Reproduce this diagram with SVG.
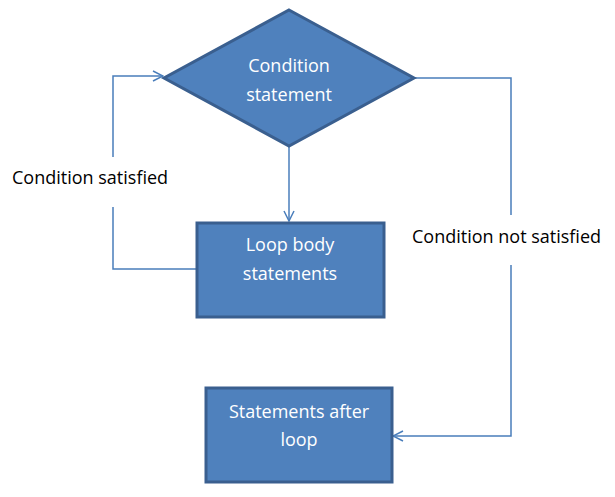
<svg xmlns="http://www.w3.org/2000/svg" width="615" height="497" viewBox="0 0 615 497">
<style>
.shape{fill:#4f81bd;stroke:#3a5f8f;stroke-width:3}
.nt{fill:#ffffff;font-family:"Open Sans","Liberation Sans",Arial,sans-serif;font-size:18px;text-anchor:middle}
.lb{fill:#000000;font-family:"Open Sans","Liberation Sans",Arial,sans-serif;font-size:18px}
.ln{fill:none;stroke:#4a7ebb;stroke-width:1.5}
</style>
<defs>
<marker id="arr" viewBox="0 0 12 12" refX="11" refY="6" markerWidth="12" markerHeight="12" markerUnits="userSpaceOnUse" orient="auto">
<path d="M1,1 L11,6 L1,11" fill="none" stroke="#4a7ebb" stroke-width="1.5"/>
</marker>
</defs>
<rect width="615" height="497" fill="#ffffff"/>
<g id="connectors">
<path class="ln" d="M289,147 L289,221" marker-end="url(#arr)"/>
<path class="ln" d="M197,269 L113,269 L113,207"/>
<path class="ln" d="M113,157 L113,76 L163,76" marker-end="url(#arr)"/>
<path class="ln" d="M414,78 L511,78 L511,215"/>
<path class="ln" d="M511,265 L511,436 L393,436" marker-end="url(#arr)"/>
<text class="lb" x="12" y="184">Condition satisfied</text>
<text class="lb" x="412" y="243">Condition not satisfied</text>
</g>
<g id="condition">
<polygon class="shape" points="289,10 414,78 289,146 164,78"/>
<text class="nt" x="289" y="72">Condition</text>
<text class="nt" x="289" y="101">statement</text>
</g>
<g id="loop-body">
<rect class="shape" x="197" y="223" width="187" height="94"/>
<text class="nt" x="290" y="251">Loop body</text>
<text class="nt" x="290" y="280">statements</text>
</g>
<g id="after-loop">
<rect class="shape" x="206" y="388" width="186" height="94"/>
<text class="nt" x="299" y="418">Statements after</text>
<text class="nt" x="299" y="446">loop</text>
</g>
</svg>
